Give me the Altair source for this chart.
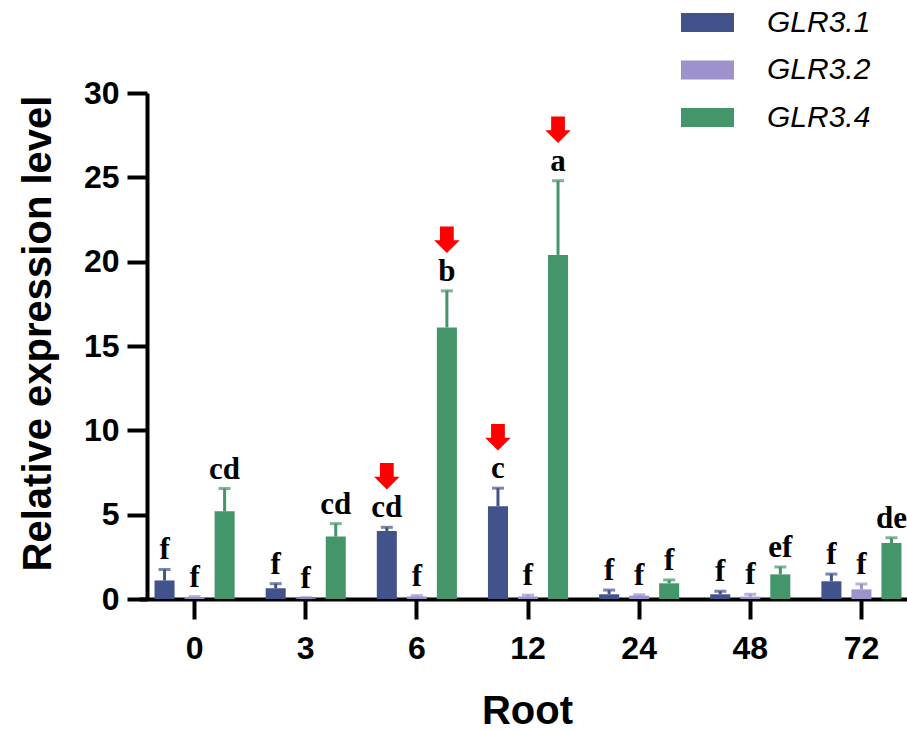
import altair as alt
import pandas as pd

times = ["0", "3", "6", "12", "24", "48", "72"]
genes = ["GLR3.1", "GLR3.2", "GLR3.4"]

glr31_mean = [1.10, 0.63, 4.03, 5.50, 0.28, 0.28, 1.05]
glr31_err = [0.65, 0.28, 0.22, 1.07, 0.25, 0.18, 0.43]
glr32_mean = [0.10, 0.05, 0.15, 0.15, 0.20, 0.14, 0.57]
glr32_err = [0.04, 0.03, 0.05, 0.08, 0.05, 0.14, 0.32]
glr34_mean = [5.20, 3.70, 16.10, 20.40, 0.93, 1.46, 3.32]
glr34_err = [1.35, 0.77, 2.17, 4.40, 0.20, 0.44, 0.31]

letters31 = ["f", "f", "cd", "c", "f", "f", "f"]
letters32 = ["f", "f", "f", "f", "f", "f", "f"]
letters34 = ["cd", "cd", "b", "a", "f", "ef", "de"]

arrow31 = [False, False, True, True, False, False, False]
arrow32 = [False, False, False, False, False, False, False]
arrow34 = [False, False, True, True, False, False, False]

colors = ["#42528B", "#9D92CB", "#44956A"]

rows = []
for g, ms, es, ls, ars in zip(
    genes,
    [glr31_mean, glr32_mean, glr34_mean],
    [glr31_err, glr32_err, glr34_err],
    [letters31, letters32, letters34],
    [arrow31, arrow32, arrow34],
):
    for i, t in enumerate(times):
        rows.append(dict(time=t, gene=g, mean=ms[i], err=es[i],
                         top=ms[i] + es[i], letter=ls[i], arrow=ars[i]))
df = pd.DataFrame(rows)

FONT = "Liberation Sans"

x = alt.X(
    "time:N", sort=times,
    scale=alt.Scale(range=[-8, 770], paddingInner=0, paddingOuter=0),
    axis=alt.Axis(
        title="Root", labelAngle=0, labelFont=FONT, labelFontSize=32,
        labelFontWeight="bold", labelColor="black", labelPadding=14,
        tickSize=20, tickWidth=4, tickColor="black",
        domainWidth=4, domainColor="black",
        titleFont=FONT, titleFontSize=40, titleFontWeight="bold",
        titleColor="black", titleX=380, titleY=124,
        titleBaseline="alphabetic", titleAlign="center",
    ),
)
xo = alt.XOffset("gene:N", sort=genes,
                 scale=alt.Scale(paddingInner=0.333, paddingOuter=0.517))
y = alt.Y(
    "mean:Q",
    scale=alt.Scale(domain=[0, 30], nice=False, zero=True),
    axis=alt.Axis(
        title="Relative expression level", values=[0, 5, 10, 15, 20, 25, 30],
        labelFont=FONT, labelFontSize=32, labelFontWeight="bold",
        labelColor="black", labelPadding=8,
        tickSize=20, tickWidth=4, tickColor="black",
        domainWidth=4, domainColor="black", grid=False,
        titleFont=FONT, titleFontSize=40, titleFontWeight="bold",
        titleColor="black", titleX=-97, titleY=240, titleAngle=270,
        titleBaseline="alphabetic", titleAlign="center",
    ),
)
color_scale = alt.Scale(domain=genes, range=colors)
color = alt.Color(
    "gene:N", sort=genes, scale=color_scale,
    legend=alt.Legend(
        title=None, orient="none", legendX=534, legendY=-97,
        direction="vertical", padding=0,
        symbolType="M-1,-0.36L1,-0.36L1,0.36L-1,0.36Z",
        symbolSize=2809, symbolStrokeWidth=0,
        labelFont=FONT, labelFontStyle="italic", labelFontSize=30,
        labelColor="black", labelOffset=33, rowPadding=5.5,
    ),
)
color_nl = alt.Color("gene:N", sort=genes, scale=color_scale, legend=None)

base = alt.Chart(df)

bars = base.mark_bar().encode(x=x, xOffset=xo, y=y, color=color)
rules = base.mark_rule(strokeWidth=3).encode(
    x=x, xOffset=xo, y="mean:Q", y2="top:Q", color=color_nl)
caps = base.mark_tick(thickness=3, size=12).encode(
    x=x, xOffset=xo, y="top:Q", color=color_nl)
texts = base.mark_text(
    baseline="alphabetic", dy=-10, font="Liberation Serif",
    fontWeight="bold", fontSize=31, color="black",
).encode(x=x, xOffset=xo, y="top:Q", text="letter:N")

arrow_path = "M-0.54,-1.04L0.54,-1.04L0.54,0.04L1,0.04L0,1.04L-1,0.04L-0.54,0.04Z"
arrows = base.transform_filter("datum.arrow").mark_point(
    shape=arrow_path, size=650, filled=True, fill="#FF0000",
    color="#FF0000", opacity=1, strokeWidth=0, yOffset=-51,
).encode(x=x, xOffset=xo, y="top:Q")

chart = alt.layer(bars, rules, caps, texts, arrows).properties(
    width=760, height=506,
    autosize=alt.AutoSizeParams(type="none"),
    padding={"left": 147, "top": 93, "right": 0, "bottom": 132},
).configure(background="white", view=alt.ViewConfig(stroke=None))

chart.save("out.html", embed_options={"renderer": "svg", "actions": False})
